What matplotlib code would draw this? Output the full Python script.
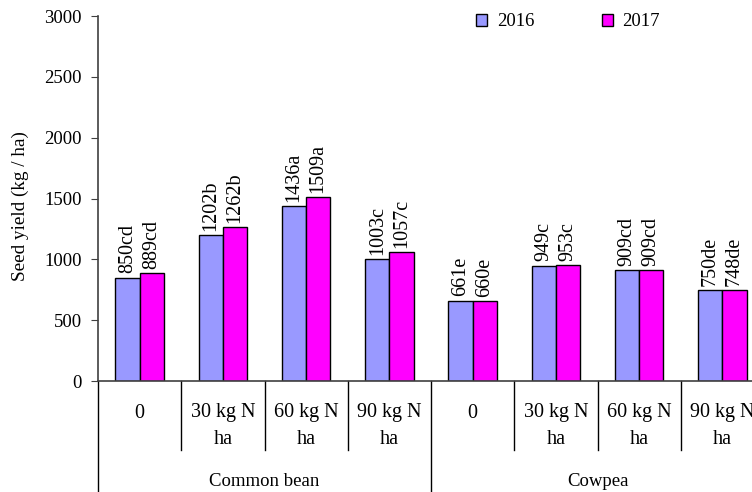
import matplotlib
matplotlib.use("Agg")
import matplotlib.pyplot as plt
from matplotlib.transforms import blended_transform_factory

plt.rcParams['font.family'] = ['Liberation Serif', 'DejaVu Serif']

crops = ["Common bean", "Cowpea"]
treatments = ["0", "30 kg N\nha", "60 kg N\nha", "90 kg N\nha"]
years = ["2016", "2017"]
y2016 = [850, 1202, 1436, 1003, 661, 949, 909, 750]
y2017 = [889, 1262, 1509, 1057, 660, 953, 909, 748]
lab2016 = ["850cd", "1202b", "1436a", "1003c", "661e", "949c", "909cd", "750de"]
lab2017 = ["889cd", "1262b", "1509a", "1057c", "660e", "953c", "909cd", "748de"]
colors = ["#9999FF", "#FF00FF"]

W, H = 752, 492
fig = plt.figure(figsize=(W / 100, H / 100), dpi=100)
left, right, bottom, top = 98, 764, 381, 16
ax = fig.add_axes([left / W, (H - bottom) / H, (right - left) / W, (bottom - top) / H])

n = len(y2016)
bw = 0.29
xs = [i + 0.5 for i in range(n)]
b1 = ax.bar([x - bw / 2 for x in xs], y2016, width=bw, color=colors[0], edgecolor="black", linewidth=1, label=years[0])
b2 = ax.bar([x + bw / 2 for x in xs], y2017, width=bw, color=colors[1], edgecolor="black", linewidth=1, label=years[1])

for x, v, l in zip(xs, y2016, lab2016):
    ax.annotate(l, (x - bw / 2, v), xytext=(0, 3), textcoords="offset points",
                rotation=90, ha="center", va="bottom", fontsize=14.5)
for x, v, l in zip(xs, y2017, lab2017):
    ax.annotate(l, (x + bw / 2, v), xytext=(0, 3), textcoords="offset points",
                rotation=90, ha="center", va="bottom", fontsize=14.5)

ax.set_xlim(0, n)
ax.set_ylim(0, 3000)
ax.set_yticks(range(0, 3001, 500))
ax.tick_params(axis="y", labelsize=13.5, direction="out", length=5, color="#404040", pad=6.5)
ax.set_xticks([])
for s in ["top", "right"]:
    ax.spines[s].set_visible(False)
for s in ["left", "bottom"]:
    ax.spines[s].set_color("#404040")
    ax.spines[s].set_linewidth(1.2)

ph = bottom - top
pw = right - left
def fy(py):
    return (bottom - py) / ph

ax.text((20 - left) / pw, fy(206), "Seed yield (kg / ha)", transform=ax.transAxes,
        rotation=90, ha="center", va="center", fontsize=13.8)

tr = blended_transform_factory(ax.transData, ax.transAxes)

# separators
for i in range(n + 1):
    if i % 4 == 0:
        ax.plot([i, i], [0, fy(500)], transform=tr, color="black", lw=1, clip_on=False)
    else:
        ax.plot([i, i], [0, fy(450)], transform=tr, color="black", lw=1, clip_on=False)

for i in range(n):
    t = treatments[i % 4]
    parts = t.split("\n")
    ax.text(i + 0.5, fy(413), parts[0], transform=tr, ha="center", va="center", fontsize=14.5)
    if len(parts) > 1:
        ax.text(i + 0.5, fy(440), parts[1], transform=tr, ha="center", va="center", fontsize=14.5)

for j, c in enumerate(crops):
    ax.text(j * 4 + 2, fy(481), c, transform=tr, ha="center", va="center", fontsize=13.5)

fig.legend(handles=[b1, b2], labels=years, loc="center", bbox_to_anchor=(568 / W, 1 - 22 / H),
           ncol=2, frameon=False, fontsize=13.5, handlelength=0.6, handleheight=0.6,
           handletextpad=0.5, columnspacing=3.6)

fig.savefig("out.png", dpi=100)
